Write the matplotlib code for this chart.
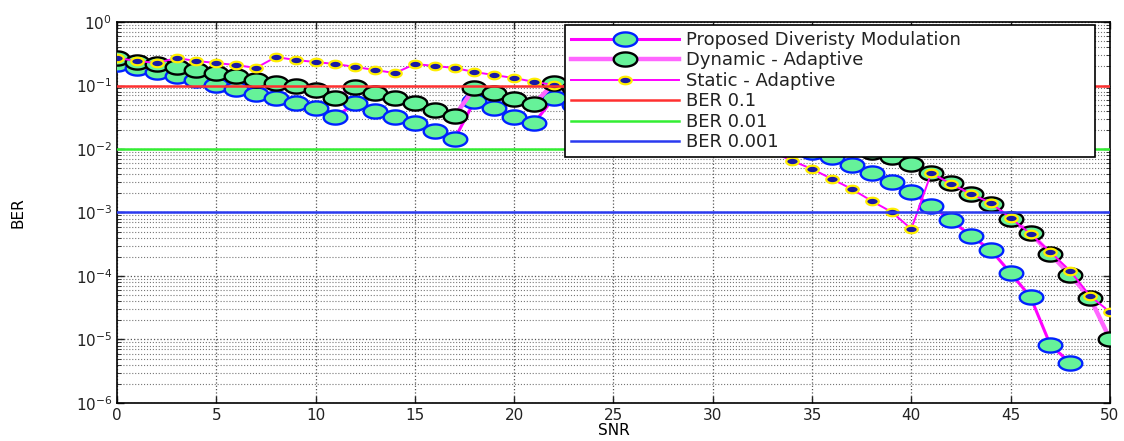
import numpy as np
import matplotlib
matplotlib.use("Agg")
import matplotlib.pyplot as plt
from matplotlib.path import Path
from matplotlib.ticker import LogLocator, FixedLocator, NullFormatter

plt.rcParams['font.family'] = ['DejaVu Sans']

snr = list(range(0, 51))

proposed = [0.218, 0.189, 0.163, 0.141, 0.122, 0.102, 0.088, 0.0735, 0.0636, 0.053,
            0.0442, 0.0319, 0.053, 0.0397, 0.0319, 0.0257, 0.0192, 0.0144, 0.057, 0.0442,
            0.0319, 0.0257, 0.0636, 0.05, 0.04, 0.032, 0.025, 0.02, 0.045, 0.036,
            0.029, 0.022, 0.017, 0.013, 0.011, 0.009, 0.0075, 0.0056, 0.0042, 0.0030,
            0.0021, 0.00127, 0.00076, 0.000427, 0.000257, 0.000111, 4.67e-5, 8.2e-6, 4.3e-6]
snr_proposed = snr[:len(proposed)]

dynamic = [0.271, 0.234, 0.218, 0.196, 0.175, 0.157, 0.141, 0.122, 0.109, 0.098,
           0.085, 0.0636, 0.0947, 0.0762, 0.0636, 0.053, 0.0411, 0.0331, 0.0914, 0.0762,
           0.0613, 0.0512, 0.109, 0.09, 0.075, 0.063, 0.052, 0.043, 0.08, 0.065,
           0.052, 0.042, 0.034, 0.027, 0.021, 0.017, 0.014, 0.011, 0.009, 0.0075,
           0.0058, 0.0042, 0.0029, 0.00196, 0.00136, 0.00079, 0.000475, 0.000222, 0.000104, 4.5e-5,
           1.02e-5]

static = [0.271, 0.243, 0.226, 0.271, 0.243, 0.226, 0.210, 0.189, 0.281, 0.252,
          0.234, 0.218, 0.196, 0.175, 0.157, 0.218, 0.203, 0.189, 0.163, 0.146,
          0.131, 0.114, 0.102, 0.09, 0.08, 0.07, 0.06, 0.05, 0.04, 0.033,
          0.025, 0.018, 0.013, 0.009, 0.0065, 0.00484, 0.00337, 0.00234, 0.00152, 0.00102,
          0.00055, 0.00419, 0.00281, 0.00196, 0.00141, 0.00082, 0.00046, 0.000239, 0.000120, 4.84e-5,
          2.71e-5]

ber_levels = [0.1, 0.01, 0.001]
labels = ['Proposed Diveristy Modulation', 'Dynamic - Adaptive', 'Static - Adaptive',
          'BER 0.1', 'BER 0.01', 'BER 0.001']
xticks = [0, 5, 10, 15, 20, 25, 30, 35, 40, 45, 50]

# ellipse marker (wider than tall)
t = np.linspace(0, 2 * np.pi, 41)
ell = Path(np.column_stack([np.cos(t), 0.6 * np.sin(t)]), closed=True)

fig = plt.figure(figsize=(11.24, 4.41), dpi=100)
ax = fig.add_axes([0.1041, 0.0862, 0.8834, 0.8639])

green_face = '#66f299'
ax.plot(snr_proposed, proposed, color='#ff00ff', lw=2.2, marker=ell, ms=17,
        mfc=green_face, mec='#0022ff', mew=1.7, label=labels[0], zorder=3)
ax.plot(snr, dynamic, color='#ff66ff', lw=3.2, marker=ell, ms=17,
        mfc=green_face, mec='black', mew=1.7, label=labels[1], zorder=3)
ax.plot(snr, static, color='#ff00ff', lw=1.4, marker=ell, ms=9,
        mfc='#1a1aa6', mec='#ffee00', mew=1.6, label=labels[2], zorder=3)

ber_colors = ['#ff3030', '#33ee33', '#2a3af0']
for lvl, c, lab in zip(ber_levels, ber_colors, labels[3:]):
    ax.plot([snr[0], snr[-1]], [lvl, lvl], color=c, lw=1.8, label=lab, zorder=4)

ax.set_yscale('log')
ax.set_xlim(0, 50)
ax.set_ylim(1e-6, 1)
ax.xaxis.set_major_locator(FixedLocator(xticks))
ax.yaxis.set_major_locator(LogLocator(base=10, numticks=10))
ax.yaxis.set_minor_locator(LogLocator(base=10, subs=np.arange(2, 10), numticks=20))
ax.yaxis.set_minor_formatter(NullFormatter())

ax.grid(True, which='major', linestyle=':', color='#555555', lw=0.9)
ax.grid(True, which='minor', axis='y', linestyle=':', color='#777777', lw=0.8)
ax.tick_params(which='both', direction='in', top=True, right=True, labelsize=11,
               colors='#222222')
ax.tick_params(which='major', length=5, width=1)
ax.tick_params(which='minor', length=3)
for s in ax.spines.values():
    s.set_color('black')
    s.set_linewidth(1.2)

ax.set_xlabel('SNR', fontsize=11, labelpad=0)
ax.set_ylabel('BER', fontsize=11, labelpad=36)

leg = ax.legend(loc='upper left', bbox_to_anchor=(0.451, 0.992, 0.534, 0.0),
                mode='expand', borderaxespad=0, fontsize=13, labelspacing=0.14,
                handlelength=6.0, handletextpad=0.4, borderpad=0.32,
                fancybox=False, framealpha=1, edgecolor='black')
leg.get_frame().set_linewidth(1.2)
leg.set_zorder(10)
for txt in leg.get_texts():
    txt.set_color('#222222')

fig.savefig('out.png', dpi=100)
